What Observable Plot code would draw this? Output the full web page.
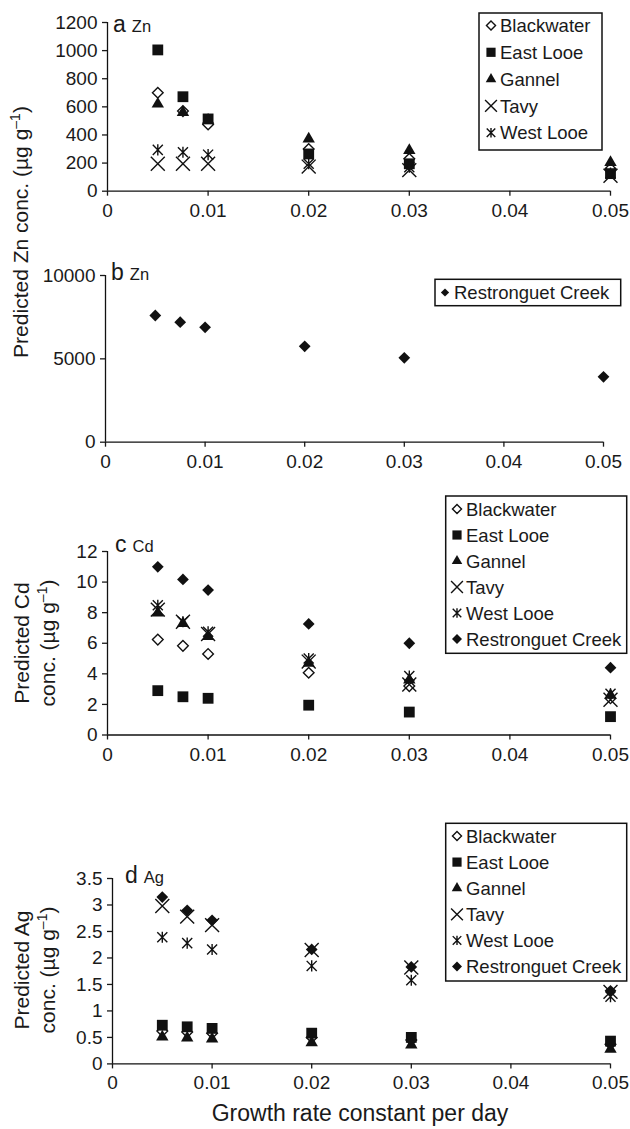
<!DOCTYPE html>
<html><head><meta charset="utf-8">
<script src="https://cdn.jsdelivr.net/npm/d3@7"></script>
<script src="https://cdn.jsdelivr.net/npm/@observablehq/plot@0.6"></script>
<style>
body{margin:0;background:#fff;}
#wrap{position:relative;width:630px;height:1129px;overflow:hidden;background:#fff;}
#wrap svg{position:absolute;left:0;}
</style></head><body><div id="wrap"></div>
<script>
// ---- data ----
const growth = [0.005, 0.0075, 0.01, 0.02, 0.03, 0.05];
const xTicks = [0, 0.01, 0.02, 0.03, 0.04, 0.05];
const znTicks = [0, 200, 400, 600, 800, 1000, 1200];
const znRTicks = [0, 5000, 10000];
const cdTicks = [0, 2, 4, 6, 8, 10, 12];
const agTicks = [0, 0.5, 1, 1.5, 2, 2.5, 3, 3.5];

const znBlackwater = [700, 570, 475, 300, 230, 160];
const znEastLooe   = [1005, 672, 514, 265, 195, 125];
const znGannel     = [620, 561, 505, 372, 290, 205];
const znTavy       = [195, 195, 195, 175, 150, 110];
const znWestLooe   = [294, 277, 260, 195, 170, 130];
const znRestronguet = [7600, 7200, 6890, 5750, 5060, 3920];

const cdBlackwater = [6.24, 5.83, 5.3, 4.07, 3.2, 2.4];
const cdEastLooe   = [2.9, 2.5, 2.4, 1.95, 1.5, 1.2];
const cdGannel     = [7.98, 7.3, 6.45, 4.7, 3.6, 2.6];
const cdTavy       = [8.2, 7.4, 6.6, 4.8, 3.3, 2.3];
const cdWestLooe   = [8.48, 7.4, 6.75, 5.0, 3.85, 2.7];
const cdRestronguet = [11.0, 10.17, 9.48, 7.26, 6.0, 4.4];

const agBlackwater = [0.62, 0.6, 0.58, 0.5, 0.45, 0.37];
const agEastLooe   = [0.73, 0.70, 0.67, 0.58, 0.5, 0.43];
const agGannel     = [0.51, 0.49, 0.47, 0.4, 0.36, 0.28];
const agTavy       = [2.98, 2.78, 2.62, 2.15, 1.82, 1.36];
const agWestLooe   = [2.39, 2.28, 2.16, 1.85, 1.58, 1.27];
const agRestronguet = [3.15, 2.90, 2.71, 2.16, 1.83, 1.38];

// ---- styles ----
const FONT = '"Liberation Sans", Arial, Helvetica, sans-serif';
const INK = "#111";
const asteriskX = { draw(ctx, size){ const r = Math.sqrt(size)*0.4431;
  ctx.moveTo(-r,-r); ctx.lineTo(r,r); ctx.moveTo(-r,r); ctx.lineTo(r,-r);
  ctx.moveTo(0,-r*1.1); ctx.lineTo(0,r*1.1);} };
const styles = {
  "Blackwater": {symbol:"diamond2", d3s:d3.symbolDiamond2, fill:"white", stroke:INK, strokeWidth:1.4, r:4.8},
  "East Looe": {symbol:"square", d3s:d3.symbolSquare, fill:INK, stroke:"none", strokeWidth:0, r:6.1},
  "Gannel": {symbol:"triangle", d3s:d3.symbolTriangle, fill:INK, stroke:"none", strokeWidth:0, r:4.6},
  "Tavy": {symbol:"times", d3s:d3.symbolTimes, fill:"none", stroke:INK, strokeWidth:1.4, r:6.4},
  "West Looe": {symbol:asteriskX, d3s:asteriskX, fill:"none", stroke:INK, strokeWidth:1.4, r:6.4},
  "Restronguet Creek": {symbol:"diamond2", d3s:d3.symbolDiamond2, fill:INK, stroke:"none", strokeWidth:0, r:5.3}
};
const fmt = d => String(+d.toFixed(3));
const wrap = document.getElementById("wrap");

function panel({top, height, mt, mb, ml, mr, yDomain, yTicks, series}) {
  const marks = [];
  for (const [name, values] of series) {
    const st = styles[name];
    const rows = growth.map((g, i) => ({g, v: values[i]}));
    marks.push(Plot.dot(rows, {x: "g", y: "v", symbol: st.symbol, r: st.r,
      fill: st.fill, stroke: st.stroke, strokeWidth: st.strokeWidth}));
  }
  const svg = Plot.plot({
    width: 630, height, marginTop: mt, marginBottom: mb, marginLeft: ml, marginRight: mr,
    style: {fontFamily: FONT, fontSize: "19px", color: "#1a1a1a", background: "transparent", overflow: "visible"},
    x: {domain: [0, 0.05]},
    y: {domain: yDomain},
    marks: [
      Plot.axisX({ticks: xTicks, tickFormat: fmt, tickSize: 5, tickPadding: 7, label: null, strokeWidth: 1.3, fontSize: 19}),
      Plot.axisY({ticks: yTicks, tickFormat: fmt, tickSize: 5, tickPadding: 5, label: null, strokeWidth: 1.3, fontSize: 19}),
      Plot.ruleX([0], {stroke: INK, strokeWidth: 1.3}),
      Plot.ruleY([0], {stroke: INK, strokeWidth: 1.3}),
      ...marks
    ]
  });
  svg.style.top = top + "px";
  wrap.appendChild(svg);
}

panel({top: 0, height: 240, mt: 22, mb: 49.3, ml: 107, mr: 20, yDomain: [0, 1200], yTicks: znTicks,
  series: [["Blackwater", znBlackwater], ["East Looe", znEastLooe], ["Gannel", znGannel], ["Tavy", znTavy], ["West Looe", znWestLooe]]});
panel({top: 250, height: 240, mt: 25, mb: 48.3, ml: 105, mr: 27, yDomain: [0, 10000], yTicks: znRTicks,
  series: [["Restronguet Creek", znRestronguet]]});
panel({top: 480, height: 320, mt: 71, mb: 65.5, ml: 107, mr: 20, yDomain: [0, 12], yTicks: cdTicks,
  series: [["Blackwater", cdBlackwater], ["East Looe", cdEastLooe], ["Gannel", cdGannel], ["Tavy", cdTavy], ["West Looe", cdWestLooe], ["Restronguet Creek", cdRestronguet]]});
panel({top: 840, height: 289, mt: 38, mb: 65.6, ml: 112, mr: 20, yDomain: [0, 3.5], yTicks: agTicks,
  series: [["Blackwater", agBlackwater], ["East Looe", agEastLooe], ["Gannel", agGannel], ["Tavy", agTavy], ["West Looe", agWestLooe], ["Restronguet Creek", agRestronguet]]});

// ---- overlay: labels, titles, legends ----
const ov = d3.select(wrap).append("svg").attr("width", 630).attr("height", 1129)
  .style("top", "0px").style("font-family", FONT).attr("fill", "#1a1a1a");

function panelLabel(x, y, letter, elem) {
  const t = ov.append("text").attr("x", x).attr("y", y);
  t.append("tspan").attr("font-size", 23).text(letter);
  t.append("tspan").attr("font-size", 16.5).attr("dx", 6).text(elem);
}
panelLabel(113, 32, "a", "Zn");
panelLabel(111, 280, "b", "Zn");
panelLabel(115, 552, "c", "Cd");
panelLabel(125, 883, "d", "Ag");

function yTitle(cx, cy, lines) {
  const g = ov.append("g").attr("transform", `translate(${cx},${cy}) rotate(-90)`);
  lines.forEach((ln, i) => {
    const t = g.append("text").attr("x", 0).attr("y", i * 26).attr("text-anchor", "middle").attr("font-size", 21);
    if (ln.sup) {
      t.append("tspan").text(ln.text);
      t.append("tspan").attr("font-size", 14).attr("dy", -8).text("–1");
      t.append("tspan").attr("dy", 8).text(")");
    } else t.text(ln.text);
  });
}
yTitle(28, 232, [{text: "Predicted Zn conc. (µg g", sup: true}]);
yTitle(29, 643, [{text: "Predicted Cd"}, {text: "conc. (µg g", sup: true}]);
yTitle(29, 970, [{text: "Predicted Ag"}, {text: "conc. (µg g", sup: true}]);

ov.append("text").attr("x", 360).attr("y", 1121).attr("text-anchor", "middle").attr("font-size", 23)
  .text("Growth rate constant per day");

function legend(box, names, rowY0, step, mx, tx, scale) {
  ov.append("rect").attr("x", box[0]).attr("y", box[1]).attr("width", box[2] - box[0]).attr("height", box[3] - box[1])
    .attr("fill", "white").attr("stroke", INK).attr("stroke-width", 1.5);
  names.forEach((n, i) => {
    const st = styles[n];
    const y = rowY0 + i * step;
    const rr = st.r * scale;
    ov.append("path").attr("transform", `translate(${mx},${y})`)
      .attr("d", d3.symbol(st.d3s, Math.PI * rr * rr)())
      .attr("fill", st.fill).attr("stroke", st.stroke === "none" ? null : st.stroke).attr("stroke-width", st.strokeWidth || null);
    ov.append("text").attr("x", tx).attr("y", y).attr("dy", "0.36em").attr("font-size", 18.5).text(n);
  });
}
const five = ["Blackwater", "East Looe", "Gannel", "Tavy", "West Looe"];
const six = [...five, "Restronguet Creek"];
legend([479, 13, 602, 150], five, 25.5, 26.8, 491, 500, 0.85);
legend([435, 279.3, 620.7, 305.7], ["Restronguet Creek"], 292.5, 0, 445, 454, 0.7);
legend([445.7, 496, 626.7, 653.3], six, 509, 26, 457, 466, 0.85);
legend([445.7, 823.3, 626.7, 981], six, 836, 26.1, 457, 466, 0.85);
</script></body></html>
